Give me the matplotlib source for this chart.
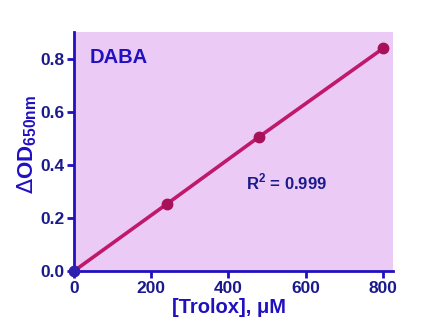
import matplotlib
matplotlib.use("Agg")
import matplotlib.pyplot as plt

plt.rcParams['font.family'] = ['Liberation Sans', 'DejaVu Sans']

trolox = [0, 240, 480, 800]
od = [0.0, 0.252, 0.506, 0.838]
xticks = [0, 200, 400, 600, 800]
yticks = [0.0, 0.2, 0.4, 0.6, 0.8]

navy = '#1a1a8c'
blue = '#2010c0'

fig = plt.figure(figsize=(4.41, 3.36), dpi=100)
ax = fig.add_axes([74 / 441, (336 - 271) / 336, (393 - 74) / 441, (271 - 32) / 336])
ax.set_facecolor('#ebcbf5')

ax.plot(trolox, od, color='#c0186a', lw=2.6, zorder=3, clip_on=False)
ax.plot(trolox[1:], od[1:], 'o', color='#a8105a', ms=7.5, zorder=4, clip_on=False)
ax.plot(trolox[:1], od[:1], 'o', color='#3020b0', ms=7.5, zorder=5, clip_on=False)

ax.set_xlim(0, 826)
ax.set_ylim(0, 0.9)
ax.set_xticks(xticks)
ax.set_yticks(yticks)
ax.set_xticklabels([str(t) for t in xticks])
ax.set_yticklabels(['%.1f' % t for t in yticks])

for s in ['top', 'right']:
    ax.spines[s].set_visible(False)
for s in ['left', 'bottom']:
    ax.spines[s].set_color(blue)
    ax.spines[s].set_linewidth(2)
ax.tick_params(colors=blue, width=2, length=5, labelsize=12.5, pad=2)
for lab in ax.get_xticklabels() + ax.get_yticklabels():
    lab.set_color(navy)
    lab.set_fontweight('bold')

ax.set_xlabel('[Trolox], \u03bcM', fontsize=14.5, fontweight='bold', color=blue, labelpad=1)
ax.xaxis.set_label_coords(0.485, -0.115)
ax.set_ylabel(r'$\Delta$OD$_{\mathregular{650nm}}$', fontsize=16, fontweight='bold', color=blue)
ax.yaxis.set_label_coords(-0.11, 0.53)

ax.text(0.05, 0.935, 'DABA', transform=ax.transAxes, fontsize=14.5, fontweight='bold',
        color=blue, va='top', ha='left')
ax.text(0.54, 0.37, r'R$^{\mathregular{2}}$ = 0.999', transform=ax.transAxes, fontsize=12,
        fontweight='bold', color=navy, va='center', ha='left')

fig.savefig('out.png', dpi=100)
